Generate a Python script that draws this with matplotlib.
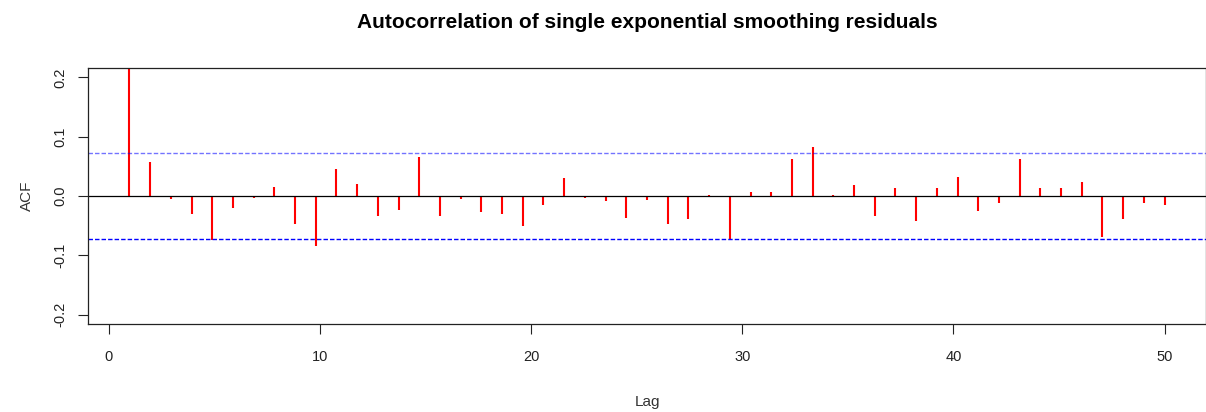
import numpy as np
import matplotlib
matplotlib.use("Agg")
import matplotlib.pyplot as plt

plt.rcParams['font.family'] = ['Liberation Sans', 'DejaVu Sans']

# acf of residuals (lag 1 runs past the top of the box)
freq = 1.02
acf_vals = [
    0.230, 0.057, -0.005, -0.031, -0.075, -0.020, -0.003, 0.016, -0.048, -0.085,
    0.045, 0.021, -0.034, -0.024, 0.065, -0.033, -0.005, -0.027, -0.031, -0.051,
    -0.016, 0.030, -0.003, -0.008, -0.037, -0.007, -0.048, -0.039, 0.002, -0.073,
    0.006, 0.006, 0.063, 0.083, 0.002, 0.019, -0.033, 0.014, -0.042, 0.013,
    0.032, -0.025, -0.012, 0.063, 0.013, 0.013, 0.024, -0.070, -0.039, -0.011,
    -0.016,
]
lags = np.arange(1, len(acf_vals) + 1) / freq
ci = 0.072

fig = plt.figure(figsize=(12.06, 4.12), dpi=100)
ax = fig.add_axes([88 / 1206, 1 - 324 / 412, 1 - 88 / 1206, (324 - 68) / 412])

ax.vlines(lags, 0, acf_vals, colors="red", linewidth=1.5)
ax.axhline(0, color="black", linewidth=0.9)
ax.axhline(ci, color="#0000ff", linestyle=(0, (3.2, 1.5)), linewidth=1.0, alpha=0.55)
ax.axhline(-ci, color="#0000ff", linestyle=(0, (3.2, 1.5)), linewidth=1.0)

ax.set_xlim(-0.98, 51.96)
ax.set_ylim(-0.216, 0.216)
ax.set_xticks([0, 10, 20, 30, 40, 50])
ax.set_yticks([-0.2, -0.1, 0.0, 0.1, 0.2])
ax.set_yticklabels(["-0.2", "-0.1", "0.0", "0.1", "0.2"], rotation=90, va="center")
ax.tick_params(axis="both", length=7, width=0.8, labelsize=10.5, color="#222222",
               labelcolor="#222222")
ax.tick_params(axis="x", pad=12)
ax.tick_params(axis="y", pad=8)
for s in ax.spines.values():
    s.set_linewidth(0.9)
    s.set_color("#222222")

ax.set_xlabel("Lag", fontsize=11, color="#333333", labelpad=22)
ax.set_ylabel("ACF", fontsize=11, color="#333333", labelpad=14)
ax.set_title("Autocorrelation of single exponential smoothing residuals",
             fontsize=15, fontweight="bold", pad=29)

fig.savefig("out.png", dpi=100)
